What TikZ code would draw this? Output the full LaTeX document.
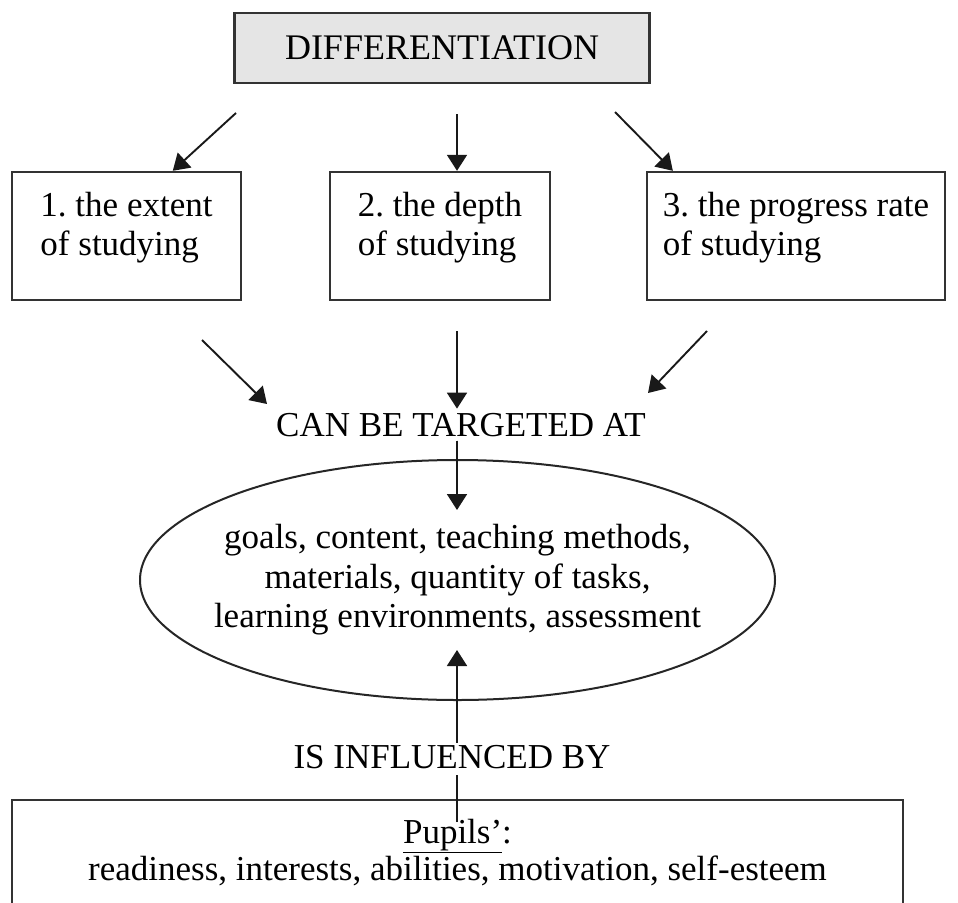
\documentclass[tikz,border=0pt]{standalone}
\usepackage{fontspec}
\setmainfont{Liberation Serif}
\usetikzlibrary{arrows.meta,shapes.geometric,positioning,calc}

\begin{document}
\frenchspacing
\begin{tikzpicture}[
        x=1pt, y=-1pt,
        >={Triangle[length=16pt,width=20pt]},
        font=\fontsize{35}{38.5}\selectfont,
        box/.style={
          rectangle,
          draw=black!80,
          line width=2.4pt,
          align=left,
          minimum height=128pt,
          text depth=24pt
        },
        arr/.style={->, line width=1.9pt, draw=black!90, fill=black!90},
        linktext/.style={inner sep=4pt, anchor=base}]
      \path[use as bounding box, clip] (0,0) rectangle (958,902);
      \coordinate (axis) at (457,0);

      % top and the three ways
      \node[box, fill=black!10, minimum width=415pt, minimum height=70pt,
        text depth=0pt, font=\fontsize{36}{38.5}\selectfont]
        (diff) at (442,48) {DIFFERENTIATION};
      \node[box, minimum width=229pt] (extent) at (126.5,236) {%
        1. the extent\\of studying};
      \node[box, minimum width=220pt] (depth) at (440,236) {%
        2. the depth\\of studying};
      \node[box, minimum width=298pt] (rate) at (796,236) {%
        3. the progress rate\\of studying};

      \coordinate (d1) at (236,113);
      \coordinate (d3) at (615,112);
      \draw[arr] (d1) -- ($(extent.north west)!0.7!(extent.north east)$);
      \draw[arr, shorten <=30pt] (diff.south -| axis) -- (depth.north -| axis);
      \draw[arr] (d3) -- ($(rate.north west)!0.09!(rate.north east)$);

      % targets
      \node[linktext] (target) at (461,436) {CAN BE TARGETED AT};
      \coordinate (c1) at (202,340);
      \coordinate (t1) at (267,404);
      \coordinate (c3) at (707,331);
      \coordinate (t3) at (648,393);
      \draw[arr] (c1) -- (t1);
      \draw[arr, shorten <=30pt] (depth.south -| axis) -- (target.north -| axis);
      \draw[arr] (c3) -- (t3);

      \node[ellipse, draw=black!85, line width=2pt, minimum width=635pt,
        minimum height=240pt, inner sep=0pt] (aims) at (457.5,580) {};
      \node[align=center, font=\fontsize{35}{39.5}\selectfont]
        (aimtext) at (aims.center) {%
        goals, content, teaching methods,\\
        materials, quantity of tasks,\\
        learning environments, assessment};
      \coordinate (t4) at (457,510);
      \draw[arr] (target.south -| axis) -- (t4);

      % pupils
      \node[box, minimum width=891pt, minimum height=200pt, anchor=north,
        text depth=0pt] (pbox) at (457.5,799) {};
      \node[anchor=base] (pupils) at ($(pbox.north)+(0,44)$) {\underline{Pupils’}:};
      \node[anchor=base] (traits) at ($(pupils.base)+(0,37)$) {%
        readiness, interests, abilities, motivation, self-esteem};
      \coordinate (u0) at (457,822);
      \coordinate (u1) at (457,650);
      \draw[arr] (u0) -- (u1);
      \node[anchor=base, fill=white, inner sep=0pt, text height=25pt,
        text depth=7pt] (influence) at (452,768) {IS INFLUENCED BY};
      \end{tikzpicture}
\end{document}
